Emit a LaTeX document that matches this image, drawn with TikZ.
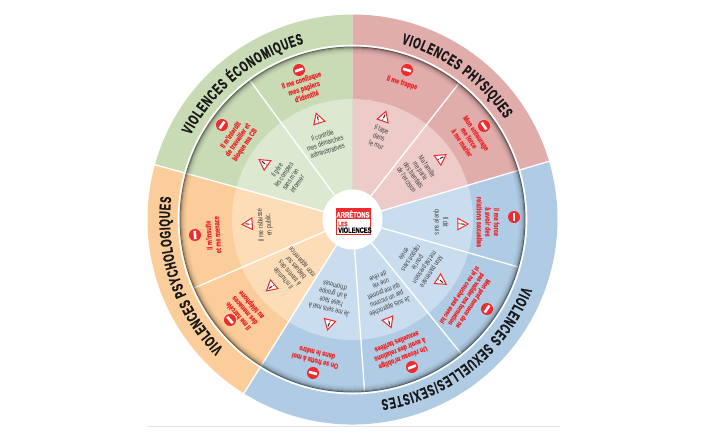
\documentclass[tikz,border=0pt]{standalone}
\usepackage{fontspec}
\usetikzlibrary{decorations.text}
\setmainfont{Liberation Sans}
\newfontfamily\condf[FakeStretch=0.72]{Liberation Sans}
\newfontfamily\condb[FakeStretch=0.74,FakeBold=0.6]{Liberation Sans Bold}
\newfontfamily\titlef[FakeStretch=0.62,FakeBold=1.2]{Liberation Sans Bold}
\definecolor{pinkO}{HTML}{E0ADAB}
\definecolor{pinkL}{HTML}{ECCBC8}
\definecolor{greenO}{HTML}{C9DBB5}
\definecolor{greenL}{HTML}{DCE8CF}
\definecolor{orangeO}{HTML}{FBCD9A}
\definecolor{orangeL}{HTML}{FDDDB8}
\definecolor{blueO}{HTML}{AFCCE4}
\definecolor{blueL}{HTML}{CADDEE}
\definecolor{alert}{HTML}{EF2B2D}
\definecolor{ink}{HTML}{3E3E40}
\tikzset{
  x=1pt,y=1pt,
  redtxt/.style={font=\condb\fontsize{7.6}{8.6}\selectfont,text=alert,align=center,inner sep=0pt},
  inktxt/.style={font=\condf\fontsize{7.4}{8.2}\selectfont,text=ink,align=center,inner sep=0pt},
  divider/.style={white,line width=1.3pt},
  titlearc/.style={decorate,decoration={text along path,text align={fit to path},text={#1}}}
}
\newcommand\stopico[3]{\begin{scope}[shift={(#1,#2)},rotate=#3]
  \fill[alert] (0,0) circle[radius=6];
  \fill[white] (-4.2,-1.3) rectangle (4.2,1.3);
\end{scope}}
\newcommand\warnico[3]{\begin{scope}[shift={(#1,#2)},rotate=#3]
  \draw[alert,fill=white,line width=1pt,line join=miter] (0,6) -- (-5.8,-4.2) -- (5.8,-4.2) -- cycle;
  \draw[black!85,line width=1pt] (0.3,2.6) -- (-0.2,-1.4);
  \fill[black!85] (-0.3,-3) circle[radius=0.6];
\end{scope}}
\newcommand\secwedge[4]{% start, end, radius, colour
  \fill[#4] (0,0) -- (#1:#3) arc[start angle=#1,end angle=#2,radius=#3] -- cycle;}
\newcommand\tfont{\titlef\fontsize{15.5}{15.5}\selectfont\color{black!90}}
\begin{document}
\begin{tikzpicture}
\useasboundingbox (0,0) rectangle (705,-440);
\fill[white] (0,0) rectangle (705,-440);
\draw[black!10,line width=0.8pt] (147,-426.5) -- (560,-426.5);
\begin{scope}[shift={(352.5,-219.5)}]
  % outer band and ring
  \secwedge{90}{164.5}{205}{greenO}
  \secwedge{16.5}{90}{205}{pinkO}
  \secwedge{164.5}{238}{205}{orangeO}
  \secwedge{238}{376.5}{205}{blueO}
  % light inner discs
  \secwedge{90}{164.5}{120.5}{greenL}
  \secwedge{16.5}{90}{120.5}{pinkL}
  \secwedge{164.5}{238}{120.5}{orangeL}
  \secwedge{238}{376.5}{120.5}{blueL}
  % dividers
  \foreach \a in {16.5,164.5,238} \draw[divider] (\a:30) -- (\a:205);
  \foreach \a in {52,126.4,203.4,274,309,344} \draw[divider] (\a:30) -- (\a:173);
  % ring shadow
  \foreach \r/\o in {172.5/.5,171.5/.3,170.5/.18,169.5/.11,168.5/.07,167.5/.04,166.5/.02}
    \draw[black,opacity=\o,line width=1pt] (0,0) circle[radius=\r];
  \draw[white,line width=1.6pt] (0,0) circle[radius=174];
  \fill[white] (0,0) circle[radius=30];
  % curved titles
  \path[titlearc={|\tfont|VIOLENCES PHYSIQUES}]
    (74.5:182.5) arc[start angle=74.5,end angle=33.5,radius=182.5];
  \path[titlearc={|\tfont|VIOLENCES ÉCONOMIQUES}]
    (152.5:182.5) arc[start angle=152.5,end angle=105.5,radius=182.5];
  \path[titlearc={|\tfont|VIOLENCES PSYCHOLOGIQUES}]
    (225:182.5) arc[start angle=225,end angle=173,radius=182.5];
  \path[titlearc={|\tfont|VIOLENCES SEXUELLES/SEXISTES}]
    (-21.5:182.5) arc[start angle=-21.5,end angle=-81,radius=182.5];
\end{scope}
% physical
\stopico{407}{-70}{-17}
\node[redtxt,rotate=-17] (p1) at (402,-83) {Il me frappe};
\warnico{384}{-117}{-19}
\node[inktxt,rotate=-19] (p2) at (379,-137) {Il tape\\dans\\le mur};
\stopico{484}{-126}{-56}
\node[redtxt,rotate=-56] (p3) at (469,-138) {Mon entourage\\me force\\à me marier};
\warnico{441}{-158}{-56}
\node[inktxt,rotate=-56] (p4) at (417,-173) {Ma famille\\me parle\\des bienfaits\\de l'excision};
% sexual
\stopico{514}{-217}{-90}
\node[redtxt,rotate=-90] (s1) at (488,-222) {Il me force\\à avoir des\\relations sexuelles};
\warnico{462}{-224}{-90}
\node[inktxt,rotate=-90] (s2) at (441,-222) {Il dit\\que je suis};
\stopico{487}{-309}{-123.5}
\node[redtxt,rotate=-123.5,font=\condb\fontsize{6.9}{8}\selectfont] (s3) at (466,-299) {Mon prof menace de ne\\pas valider ma formation\\si je ne couche pas avec lui};
\warnico{441}{-281}{-123.5}
\node[inktxt,rotate=-123.5] (s4) at (418,-263) {Mon partenaire\\me fait pression\\pour le\\rapport sans\\envie};
\stopico{412}{-367}{-158.5}
\node[redtxt,rotate=-158.5] (s5) at (400,-350) {Un réseau m'oblige\\à avoir des relations\\sexuelles tarifées};
\warnico{389}{-322}{-158.5}
\node[inktxt,rotate=-158.5] (s6) at (384,-292) {Je suis approchée\\par un inconnu\\qui me promet\\une vie\\de rêve};
\stopico{313}{-373}{166}
\node[redtxt,rotate=166] (s7) at (316,-357) {On se frotte à moi\\dans le métro};
\warnico{329}{-324}{166}
\node[inktxt,rotate=166] (s8) at (332,-298) {Je me sens mal à\\l'aise face\\à un groupe\\d'hommes};
% psychological
\stopico{230}{-320}{131}
\node[redtxt,rotate=131] (o1) at (245,-310) {Il me harcèle\\des menaces\\au téléphone};
\warnico{271}{-287}{131}
\node[inktxt,rotate=131] (o2) at (293,-270) {Il m'humilie\\à travers des\\blagues sur\\mon apparence};
\stopico{195}{-235}{94}
\node[redtxt,rotate=94] (o3) at (213,-235) {Il m'insulte\\et me menace};
\warnico{248}{-224}{94}
\node[inktxt,rotate=94] (o4) at (265,-225) {Il me rabaisse\\en public.};
% economic
\stopico{222}{-125}{55.5}
\node[redtxt,rotate=55.5] (e1) at (238,-140) {Il m'interdit\\de travailler et\\bloque ma CB};
\warnico{264}{-163}{55.5}
\node[inktxt,rotate=55.5] (e2) at (287,-177) {Il gère\\les comptes\\sans m'en\\informer};
\stopico{299}{-70}{18}
\node[redtxt,rotate=18] (e3) at (304,-88) {Il me confisque\\mes papiers\\d'identité};
\warnico{318}{-119}{18}
\node[inktxt,rotate=18] (e4) at (325,-143) {Il contrôle\\mes démarches\\administratives};
% logo
\fill[white] (336,-209) rectangle (370,-234);
\fill[alert] (336,-208.5) rectangle (370,-219);
\draw[alert,line width=0.8pt] (336,-208.5) rectangle (370,-234.5);
\node[inner sep=0pt,text=white,font=\condb\fontsize{8}{8}\selectfont] (l1) at (353,-214) {ARRÊTONS};
\node[inner sep=0pt,text=alert,font=\condb\fontsize{6.5}{6.5}\selectfont,anchor=west] (l2) at (338,-224) {LES};
\node[inner sep=0pt,text=black,font=\condb\fontsize{7.8}{7.8}\selectfont,anchor=west] (l3) at (338,-230.2) {VIOLENCES};
\end{tikzpicture}
\end{document}
